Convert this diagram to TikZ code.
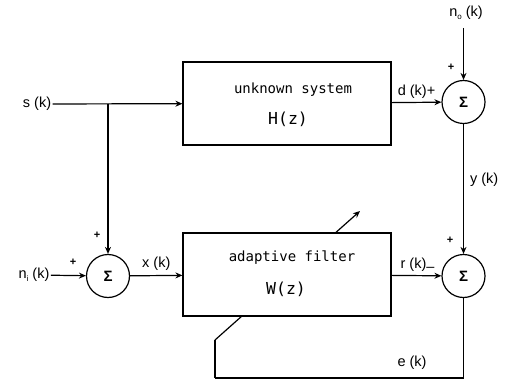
\documentclass[tikz,border=0pt]{standalone}
\usepackage{fontspec}
\setmainfont{Liberation Sans}
\newfontfamily\monofont{DejaVu Sans Mono}
\usetikzlibrary{arrows.meta}

\newcommand{\lowsub}[1]{\raisebox{-3pt}{\fontsize{8}{8}\selectfont #1}}

\tikzset{
    block/.style={draw, fill=white, minimum width=208pt, minimum height=83pt},
    sumnode/.style={draw, circle, fill=white, minimum size=43pt, inner sep=0pt, font=\fontsize{15}{15}\bfseries},
    sig/.style={font=\fontsize{14.5}{16}\selectfont, inner sep=1pt},
    mono/.style={font=\monofont\fontsize{14}{16}\selectfont, inner sep=0pt},
    bigmono/.style={font=\monofont\fontsize{16.5}{18}\selectfont, inner sep=0pt},
    sgn/.style={font=\bfseries\fontsize{11}{11}\selectfont, inner sep=0pt}
}

\begin{document}
\begin{tikzpicture}[x=1pt, y=-1pt, line width=1.2pt, >={Stealth[length=7pt,width=6pt]}]
    \useasboundingbox (0,0) rectangle (506,385);

    % feedback path, behind the filter box
    \coordinate (fbfoot) at (215,378);
    \coordinate (fbbend) at (215,340);
    \coordinate (fbtip) at (360,211);
    \draw (fbbend) -- (fbfoot);
    \draw[->] (fbbend) -- (fbtip);

    % blocks
    \node[block] (hsys) at (287,103.5) {};
    \node[block] (wfilt) at (287,274.5) {};
    \node[mono] at (293,90) {unknown system};
    \node[bigmono] at (288,119) {H(z)};
    \node[mono] at (292,258) {adaptive filter};
    \node[bigmono] at (286,289) {W(z)};

    % summing junctions
    \node[sumnode] (sumd) at (463.5,102) {Σ};
    \node[sumnode] (sumx) at (108,276) {Σ};
    \node[sumnode] (sume) at (463.5,276) {Σ};

    % inputs
    \node[sig] (sk) at (37,104) {s (k)};
    \node[sig] (nik) at (34,275) {n\lowsub{i}\ (k)};
    \node[sig] (nok) at (466,13) {n\lowsub{o}\ (k)};
    \coordinate (branch) at (sumx |- sk);
    \coordinate (notop) at (463.5,28);

    % signal paths
    \draw[->] (sk) -- (hsys);
    \draw[->] (branch) -- (sumx);
    \draw[->] (nik) -- (sumx);
    \draw[->] (sumx) -- (wfilt) node[sig, midway, above=3pt] {x (k)};
    \draw[->] (notop) -- (sumd);
    \draw[->] (hsys) -- (sumd) node[sig, pos=0.5, above=2pt] {d (k)+};
    \draw[->] (sumd) -- (sume) node[sig, pos=0.43, right=5pt] {y (k)};
    \draw[->] (wfilt) -- (sume) node[sig, pos=0.52, above=3pt] {r (k)\raisebox{-3pt}{–}};
    \draw (sume) |- (fbfoot);
    \node[sig] (ek) at (412,363) {e (k)};

    % signs
    \node[sgn] at (451,67) {+};
    \node[sgn] at (450,240) {+};
    \node[sgn] at (97,235) {+};
    \node[sgn] at (73,262) {+};
\end{tikzpicture}
\end{document}
